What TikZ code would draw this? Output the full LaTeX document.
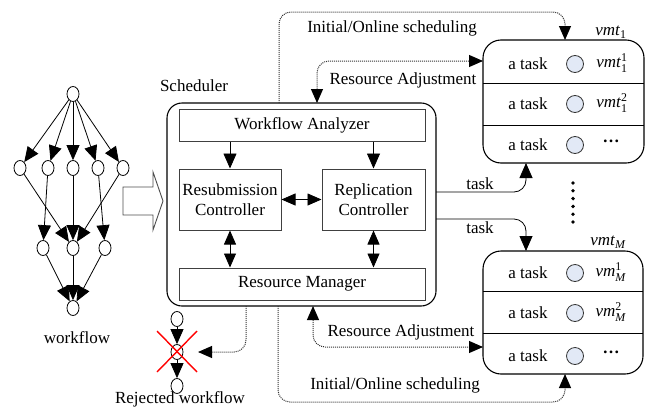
\documentclass[tikz,border=0pt]{standalone}
\usepackage{amsmath}
\usepackage{fontspec}
\setmainfont{Liberation Serif}
\usetikzlibrary{arrows.meta,shapes.geometric}
\newcommand\vml[3]{\textit{#1}\ensuremath{_{\text{#2}}^{\text{#3}}}}
\definecolor{cfill}{RGB}{226,233,246}
\begin{document}
\begin{tikzpicture}[x=1pt,y=-1pt,
  every node/.style={font=\fontsize{17}{20}\selectfont},
  box/.style={draw=black!75, line width=1pt, inner sep=0pt, align=center},
  outer/.style={draw, line width=1.1pt, rounded corners=15pt, inner sep=0pt},
  vmbox/.style={draw, line width=1.1pt, rounded corners=18pt, inner sep=0pt},
  dag/.style={ellipse, draw, line width=0.8pt, minimum width=12pt, minimum height=15pt, inner sep=0pt},
  arr/.style={-{Triangle[length=15pt,width=13pt]}, line width=0.8pt},
  darr/.style={{Triangle[length=14pt,width=12pt]}-{Triangle[length=14pt,width=12pt]}, line width=0.8pt},
  dotarr/.style={-{Triangle[length=14pt,width=12pt,color=black]}, dash pattern=on 1pt off 1pt, line width=1pt, draw=black!80, rounded corners=12pt},
  dotdarr/.style={{Triangle[length=14pt,width=12pt,color=black]}-{Triangle[length=14pt,width=12pt,color=black]}, dash pattern=on 1pt off 1pt, line width=1pt, draw=black!80, rounded corners=12pt},
  vmc/.style={circle, draw=black!80, fill=cfill, minimum size=17pt, inner sep=0pt, line width=0.8pt}
]
\useasboundingbox (0,0) rectangle (650,407);

% ---------- workflow DAG ----------
\node[dag] (d0) at (73,94) {};
\node[dag] (d1) at (20,168) {};
\node[dag] (d2) at (48,168) {};
\node[dag] (d3) at (73,168) {};
\node[dag] (d4) at (98,168) {};
\node[dag] (d5) at (123,168) {};
\node[dag] (d6) at (43,248) {};
\node[dag] (d7) at (73,248) {};
\node[dag] (d8) at (105,248) {};
\node[dag] (d9) at (73,308) {};
\foreach \n in {d1,d2,d3,d4,d5} \draw[arr] (d0) -- (\n);
\draw[arr] (d1) -- (d7);
\draw[arr] (d2) -- (d6);
\draw[arr] (d3) -- (d7);
\draw[arr] (d4) -- (d8);
\draw[arr] (d5) -- (d7);
\foreach \n in {d6,d7,d8} \draw[arr] (\n) -- (d9);
\node (wflab) at (77,338) {workflow};

% big hollow arrow
\draw[line width=0.9pt, black!70] (123,187) -- (153,187) -- (153,172) -- (163,201) -- (153,230) -- (153,215) -- (123,215) -- cycle;

% ---------- scheduler ----------
\node (schlab) at (194,86) {Scheduler};
\node[outer, minimum width=269pt, minimum height=203pt] (sched) at (301.5,204.5) {};
\node[box, minimum width=246pt, minimum height=32pt] (wa) at (302,125) {Workflow Analyzer};
\node[box, minimum width=102pt, minimum height=61pt] (rs) at (230,199.5) {Resubmission\\Controller};
\node[box, minimum width=103pt, minimum height=61pt] (rp) at (373.5,199.5) {Replication\\Controller};
\node[box, minimum width=246pt, minimum height=32pt] (rm) at (302,284) {Resource Manager};
\draw[arr] (wa.south -| rs) -- (rs.north);
\draw[arr] (wa.south -| rp) -- (rp.north);
\draw[darr] (rs) -- (rp);
\draw[darr] (rs.south) -- (rm.north -| rs);
\draw[darr] (rp.south) -- (rm.north -| rp);

% ---------- VM boxes ----------
\node[vmbox, minimum width=161pt, minimum height=123pt] (vm1) at (563.5,101.5) {};
\draw[line width=1pt] (483,83) -- (644,83);
\draw[line width=1pt] (483,125) -- (644,125);
\node (vm1lab) at (611,32) {\textit{vmt}$_{\text{1}}$};
\node (t11) at (528,64) {a task};  \node[vmc] (c11) at (575,64) {};  \node (l11) at (612,63) {\vml{vmt}{1}{1}};
\node (t12) at (528,104) {a task}; \node[vmc] (c12) at (575,104) {}; \node (l12) at (612,103) {\vml{vmt}{1}{2}};
\node (t13) at (528,145) {a task}; \node[vmc] (c13) at (575,145) {}; \node (l13) at (611,141) {\textbf{…}};

\node[vmbox, minimum width=160pt, minimum height=123pt] (vm2) at (563,312.5) {};
\draw[line width=1pt] (483,291) -- (643,291);
\draw[line width=1pt] (483,333) -- (643,333);
\node (vm2lab) at (608,242) {\textit{vmt}$_{\textit{M}}$};
\node (t21) at (528,273) {a task}; \node[vmc] (c21) at (575,273) {}; \node (l21) at (611,272) {\vml{vm}{\textit{M}}{1}};
\node (t22) at (528,313) {a task}; \node[vmc] (c22) at (575,313) {}; \node (l22) at (611,312) {\vml{vm}{\textit{M}}{2}};
\node (t23) at (528,356) {a task}; \node[vmc] (c23) at (575,356) {}; \node (l23) at (611,352) {\textbf{…}};

\foreach \i in {0,...,5} \fill ({573},{183+7.8*\i}) circle (1.9pt);

% ---------- task arrows ----------
\coordinate (ts1) at (436,192);
\coordinate (ts2) at (436,219);
\coordinate (te1) at (526,163);
\coordinate (te2) at (526,251);
\draw[arr, rounded corners=12pt] (ts1) -- (526,192) -- (te1);
\draw[arr, rounded corners=12pt] (ts2) -- (526,219) -- (te2);
\node (task1) at (480,184) {task};
\node (task2) at (480,228) {task};

% ---------- dotted connectors ----------
\coordinate (s1) at (279,103);
\coordinate (e1) at (565,40);
\draw[dotarr] (s1) -- (279,12) -- (565,12) -- (e1);
\node (init1) at (392,28) {Initial/Online scheduling};

\coordinate (s2) at (317,103);
\coordinate (e2) at (483,61);
\draw[dotdarr] (s2) -- (317,61) -- (e2);
\node (ra1) at (403,80) {Resource Adjustment};

\coordinate (s3) at (313,306);
\coordinate (e3) at (483,347);
\draw[dotdarr] (s3) -- (313,347) -- (e3);
\node (ra2) at (401,332) {Resource Adjustment};

\coordinate (s4) at (278,306);
\coordinate (e4) at (565,374);
\draw[dotarr] (s4) -- (278,402) -- (565,402) -- (e4);
\node (init2) at (395,385) {Initial/Online scheduling};

% ---------- rejected workflow ----------
\node[dag] (r1) at (177,319) {};
\node[dag] (r2) at (177,352) {};
\node[dag] (r3) at (177,386) {};
\draw[arr] (r1) -- (r2);
\draw[arr] (r2) -- (r3);
\draw[red, line width=1.4pt] (157,331) -- (197,372);
\draw[red, line width=1.4pt] (197,331) -- (157,372);
\coordinate (s5) at (246,306);
\coordinate (e5) at (198,352);
\draw[dotarr] (s5) -- (246,352) -- (e5);
\node (rjlab) at (180,399) {Rejected workflow};
\end{tikzpicture}
\end{document}
